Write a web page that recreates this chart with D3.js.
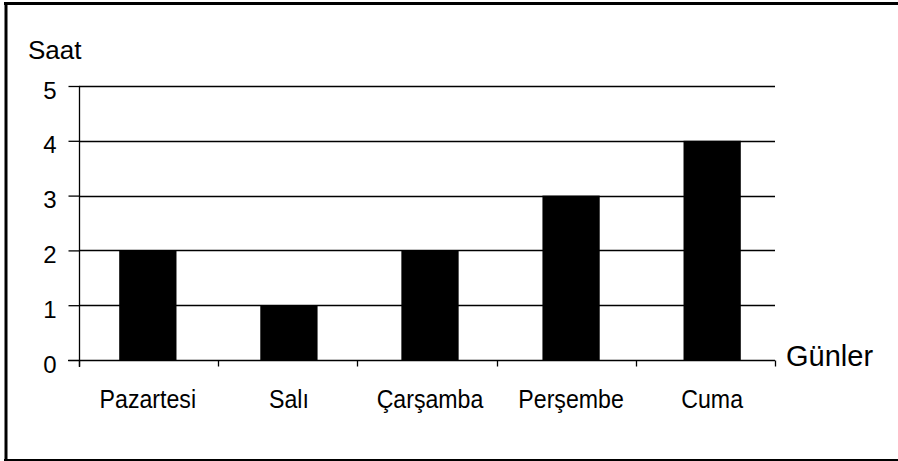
<!DOCTYPE html>
<html><head><meta charset="utf-8">
<script src="https://cdn.jsdelivr.net/npm/d3@7/dist/d3.min.js"></script>
<style>body{margin:0;background:#fff}svg{display:block}text{font-family:"Liberation Sans",Arial,sans-serif;fill:#000}</style>
</head><body>
<svg id="c" width="898" height="461"></svg>
<script>
const categories = ["Pazartesi","Salı","Çarşamba","Perşembe","Cuma"];
const values = [2,1,2,3,4];
const yTicks = [0,1,2,3,4,5];
const yTitle = "Saat";
const xTitle = "Günler";

const svg = d3.select("#c");
const L = 79, R = 775, T = 86, B = 360;

// frame
svg.append("line").attr("x1",4).attr("x2",898).attr("y1",3.5).attr("y2",3.5).attr("stroke","#000").attr("stroke-width",3);
svg.append("line").attr("x1",6).attr("x2",6).attr("y1",2).attr("y2",461).attr("stroke","#000").attr("stroke-width",3);
svg.append("line").attr("x1",4).attr("x2",898).attr("y1",460).attr("y2",460).attr("stroke","#000").attr("stroke-width",2);

const y = d3.scaleLinear().domain([0,5]).range([B,T]);
const xTicksScale = d3.scaleBand().domain(categories).range([L,R]);
const xBar = d3.scaleBand().domain(categories).range([L,R+6]).paddingInner(0.594).paddingOuter(0.285);

// gridlines
svg.append("g").selectAll("line").data(yTicks.filter(d=>d>0)).join("line")
  .attr("x1",L).attr("x2",R).attr("y1",d=>Math.round(y(d))+0.5).attr("y2",d=>Math.round(y(d))+0.5)
  .attr("stroke","#000").attr("stroke-width",1.3);

// bars
svg.append("g").selectAll("rect").data(values).join("rect")
  .attr("x",(d,i)=>xBar(categories[i])).attr("width",xBar.bandwidth())
  .attr("y",d=>y(d)).attr("height",d=>B-y(d)).attr("fill","#000");

// y axis
const yAxis = d3.axisLeft(y).tickValues(yTicks).tickSize(11).tickPadding(12).tickFormat(d3.format("d"));
const gy = svg.append("g").attr("transform",`translate(${L+0.5},0)`).call(yAxis);
gy.select(".domain").attr("d",`M0,${T}V${B+7}`).attr("stroke","#000").attr("stroke-width",1.3);
gy.selectAll(".tick line").attr("stroke","#000").attr("stroke-width",1.3);
gy.selectAll(".tick text").attr("font-size",24).attr("dy","0.5em").style("font-family",'"Liberation Sans",Arial,sans-serif');

// x axis
const xAxis = d3.axisBottom(xTicksScale).tickSize(0).tickFormat("");
const gx = svg.append("g").attr("transform",`translate(0,${B+0.5})`).call(xAxis);
gx.select(".domain").attr("d",`M${L},0H${R}`).attr("stroke","#000").attr("stroke-width",1.3);
const bounds = categories.map(c=>xTicksScale(c)).concat([R]);
gx.append("g").selectAll("line").data(bounds).join("line")
  .attr("x1",d=>Math.round(d)+0.5).attr("x2",d=>Math.round(d)+0.5).attr("y1",0).attr("y2",6)
  .attr("stroke","#000").attr("stroke-width",1.3);
svg.append("line").attr("x1",68).attr("x2",L).attr("y1",B+0.5).attr("y2",B+0.5).attr("stroke","#000").attr("stroke-width",1.3);

// category labels
svg.append("g").selectAll("text").data(categories).join("text")
  .attr("transform",c=>`translate(${xBar(c)+xBar.bandwidth()/2},408) scale(0.89,1)`)
  .attr("text-anchor","middle").attr("font-size",26).text(c=>c);

// titles
svg.append("text").attr("x",28).attr("y",59).attr("font-size",26).text(yTitle);
svg.append("text").attr("x",786).attr("y",366).attr("font-size",29).text(xTitle);
</script>
</body></html>
